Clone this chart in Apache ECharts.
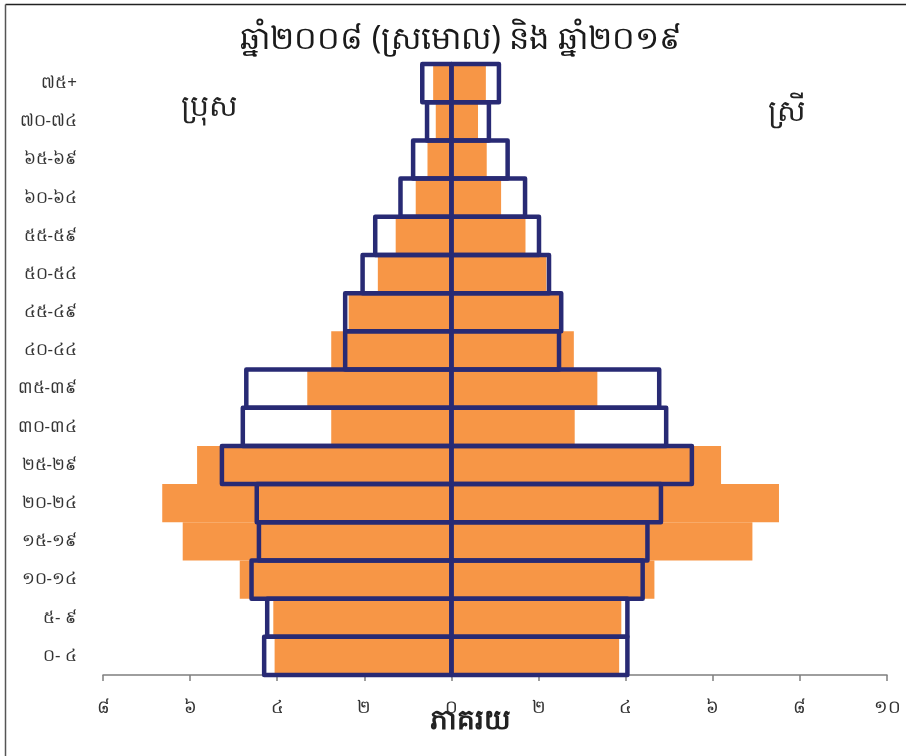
<!DOCTYPE html>
<html>
<head>
<meta charset="utf-8">
<script src="https://cdn.jsdelivr.net/npm/echarts@6/dist/echarts.min.js"></script>
<style>
  html, body { margin: 0; padding: 0; background: #fff; }
  #main { width: 909px; height: 756px; }
</style>
</head>
<body>
<div id="main"></div>
<script>
// ក្រុមអាយុ (ពីក្រោមទៅលើ)
var ageGroups = ['០- ៤', '៥- ៩', '១០-១៤', '១៥-១៩', '២០-២៤', '២៥-២៩', '៣០-៣៤', '៣៥-៣៩',
  '៤០-៤៤', '៤៥-៤៩', '៥០-៥៤', '៥៥-៥៩', '៦០-៦៤', '៦៥-៦៩', '៧០-៧៤', '៧៥+'];

// ឆ្នាំ២០០៨ (ស្រមោល) - ភាគរយ
var male2008 = [4.06, 4.09, 4.86, 6.17, 6.64, 5.84, 2.76, 3.31, 2.76, 2.36, 1.69, 1.28, 0.82, 0.55, 0.36, 0.42];
var female2008 = [3.85, 3.90, 4.66, 6.91, 7.52, 6.19, 2.83, 3.35, 2.81, 2.48, 2.18, 1.70, 1.14, 0.81, 0.61, 0.79];

// ឆ្នាំ២០១៩
var male2019 = [4.30, 4.23, 4.59, 4.42, 4.47, 5.27, 4.79, 4.71, 2.44, 2.44, 2.04, 1.75, 1.17, 0.88, 0.56, 0.67];
var female2019 = [4.04, 4.04, 4.39, 4.50, 4.81, 5.52, 4.93, 4.77, 2.47, 2.52, 2.24, 2.01, 1.69, 1.29, 0.86, 1.09];

var khmerDigits = ['០', '១', '២', '៣', '៤', '៥', '៦', '៧', '៨', '៩'];

function toKhmer(v) {
  return String(Math.abs(v)).replace(/[0-9]/g, function (d) { return khmerDigits[+d]; });
}

function neg(arr) {
  return arr.map(function (v) { return -v; });
}

var fontFam = '"Noto Sans", "DejaVu Sans", sans-serif';
var orange = '#f79646';
var navy = '#282a74';

var myChart = echarts.init(document.getElementById('main'));

/**
 * ប្រអប់គ្រោង ឆ្នាំ២០១៩ (បន្ទាត់នៅកណ្តាលគែម)
 */
function outlineItem(params, api) {
  var v = api.value(0);
  var idx = api.value(1);
  var p0 = api.coord([0, idx]);
  var p1 = api.coord([v, idx]);
  var h = api.size([0, 1])[1];
  var x = Math.min(p0[0], p1[0]);
  return {
    type: 'rect',
    shape: { x: x, y: p0[1] - h / 2, width: Math.abs(p1[0] - p0[0]), height: h },
    style: { fill: 'none', stroke: navy, lineWidth: 4.5, lineJoin: 'round' }
  };
}

function pairs(arr) {
  return arr.map(function (v, i) { return [v, i]; });
}

var option = {
  animation: false,
  backgroundColor: '#fff',
  title: {
    text: 'ឆ្នាំ២០០៨ (ស្រមោល) និង ឆ្នាំ២០១៩',
    left: 456,
    textAlign: 'center',
    top: 19,
    textStyle: { fontFamily: fontFam, fontSize: 32, fontWeight: 'normal', color: '#1a1a1a' }
  },
  grid: { left: 103, right: 22, top: 64, bottom: 81, containLabel: false },
  xAxis: {
    type: 'value',
    min: -8,
    max: 10,
    interval: 2,
    splitLine: { show: false },
    axisLine: { show: true, lineStyle: { color: '#7f7f7f', width: 1.5 } },
    axisTick: { show: true, length: 6, lineStyle: { color: '#7f7f7f', width: 1.5 } },
    axisLabel: {
      margin: 24,
      fontFamily: fontFam,
      fontSize: 18,
      color: '#333',
      formatter: function (v) { return toKhmer(v); }
    }
  },
  yAxis: {
    type: 'category',
    data: ageGroups,
    axisLine: { show: false },
    axisTick: { show: false },
    splitLine: { show: false },
    axisLabel: { margin: 26, fontFamily: fontFam, fontSize: 17, color: '#333' }
  },
  series: [
    {
      name: 'ប្រុស ២០០៨', type: 'bar', stack: 'y2008', data: neg(male2008),
      barCategoryGap: 0, barGap: '-100%',
      itemStyle: { color: orange }, z: 2
    },
    {
      name: 'ស្រី ២០០៨', type: 'bar', stack: 'y2008', data: female2008,
      barCategoryGap: 0, barGap: '-100%',
      itemStyle: { color: orange }, z: 2
    },
    {
      name: 'ប្រុស ២០១៩', type: 'custom', data: pairs(neg(male2019)),
      encode: { x: 0, y: 1 }, renderItem: outlineItem, z: 3
    },
    {
      name: 'ស្រី ២០១៩', type: 'custom', data: pairs(female2019),
      encode: { x: 0, y: 1 }, renderItem: outlineItem, z: 3
    }
  ],
  graphic: [
    // ស៊ុមរូប
    { type: 'line', shape: { x1: 5.5, y1: 4.5, x2: 906, y2: 4.5 }, style: { stroke: '#222', lineWidth: 1.5 } },
    { type: 'line', shape: { x1: 5.5, y1: 4.5, x2: 5.5, y2: 756 }, style: { stroke: '#555', lineWidth: 1.5 } },
    {
      type: 'text', left: 181, top: 92,
      style: { text: 'ប្រុស', font: '30px ' + fontFam, fill: '#222' }
    },
    {
      type: 'text', left: 768, top: 97,
      style: { text: 'ស្រី', font: '30px ' + fontFam, fill: '#222' }
    },
    {
      type: 'text', left: 430, top: 707,
      style: { text: 'ភាគរយ', font: 'bold 28px ' + fontFam, fill: '#222' }
    }
  ]
};

myChart.setOption(option);
</script>
</body>
</html>
